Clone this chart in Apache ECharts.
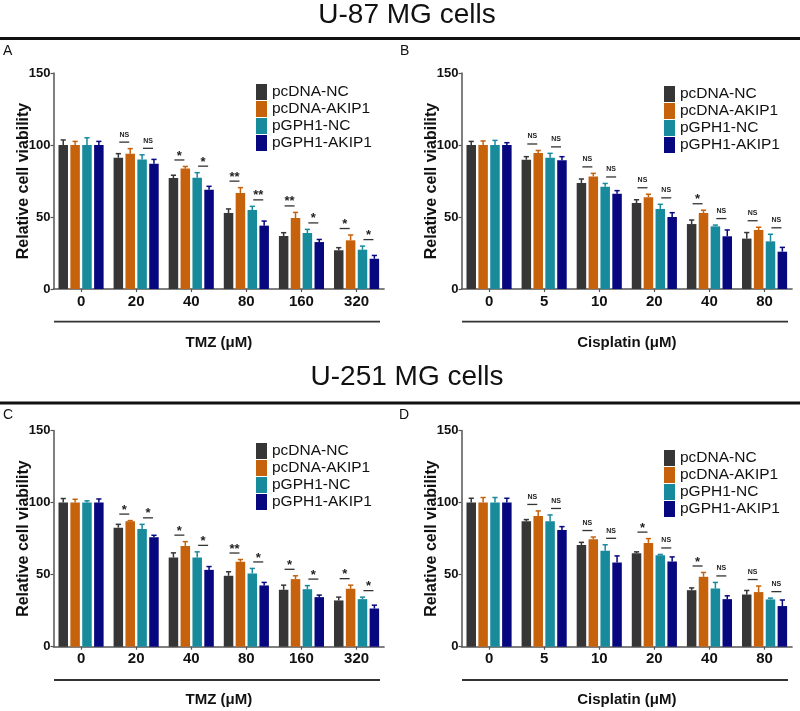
<!DOCTYPE html>
<html><head><meta charset="utf-8">
<script src="https://cdn.jsdelivr.net/npm/echarts@6/dist/echarts.min.js"></script>
<style>html,body{margin:0;padding:0;background:#fff}#c{width:800px;height:711px}</style>
</head><body><div id="c"></div>
<script>
// ---------- data ----------
const seriesNames = ['pcDNA-NC', 'pcDNA-AKIP1', 'pGPH1-NC', 'pGPH1-AKIP1'];
const catsTMZ = ['0', '20', '40', '80', '160', '320'];
const catsCis = ['0', '5', '10', '20', '40', '80'];
const yTicks = [0, 50, 100, 150];

// Panel A: U-87 MG, TMZ
const A_pcNC = [100, 91.2, 77, 52.8, 36.8, 26.9];
const A_pcAK = [100, 94, 83.6, 66.7, 49.3, 33.8];
const A_pgNC = [100, 90, 77.3, 54.9, 38.9, 27.3];
const A_pgAK = [100, 87, 69, 44, 32.6, 21];
const A_pcNC_err = [3.5, 2.8, 2, 2.8, 2.3, 1.8];
const A_pcAK_err = [2.5, 3.5, 1.5, 3.7, 3.9, 3.7];
const A_pgNC_err = [5, 3.2, 3.5, 2.5, 2.5, 2.5];
const A_pgAK_err = [2.5, 3, 2.3, 3.2, 1.8, 2.3];
const A_sig1 = ['', 'NS', '*', '**', '**', '*'];
const A_sig2 = ['', 'NS', '*', '**', '*', '*'];

// Panel B: U-87 MG, Cisplatin
const B_pcNC = [100, 89.8, 73.6, 59.7, 45.1, 35];
const B_pcAK = [100, 94.4, 78.2, 63.7, 52.8, 41];
const B_pgNC = [100, 91.2, 71, 55.6, 43.5, 33.1];
const B_pgAK = [100, 89.4, 66.2, 50, 36.6, 25.9];
const B_pcNC_err = [2.5, 2.1, 2.8, 2.3, 2.8, 4.2];
const B_pcAK_err = [2.8, 1.8, 2.1, 2.1, 1.9, 1.9];
const B_pgNC_err = [3.2, 3, 2.3, 3.2, 0.9, 4.9];
const B_pgAK_err = [1.6, 2.5, 2.1, 3, 4.4, 3];
const B_sig1 = ['', 'NS', 'NS', 'NS', '*', 'NS'];
const B_sig2 = ['', 'NS', 'NS', 'NS', 'NS', 'NS'];

// Panel C: U-251 MG, TMZ
const C_pcNC = [100, 82.6, 61.9, 49.2, 39.5, 32.1];
const C_pcAK = [100, 87, 69.9, 58.9, 46.9, 40.2];
const C_pgNC = [100, 81.7, 61.9, 50.8, 39.9, 33];
const C_pgAK = [100, 75.9, 53.3, 42.5, 34.4, 26.5];
const C_pcNC_err = [2.8, 2.3, 3.2, 2.8, 3.2, 2.3];
const C_pcAK_err = [2.3, 0.5, 3, 1.6, 2.3, 2.5];
const C_pgNC_err = [1.2, 3.2, 3.9, 3.5, 2.5, 1.4];
const C_pgAK_err = [2.5, 1.4, 2.3, 2.1, 1.4, 2.3];
const C_sig1 = ['', '*', '*', '**', '*', '*'];
const C_sig2 = ['', '*', '*', '*', '*', '*'];

// Panel D: U-251 MG, Cisplatin
const D_pcNC = [100, 87, 70.6, 64.9, 39.2, 36.2];
const D_pcAK = [100, 90.7, 74.5, 72, 48.5, 37.9];
const D_pgNC = [100, 87, 66.5, 63.5, 40.4, 32.8];
const D_pgAK = [100, 81, 58.4, 59.1, 33, 28.2];
const D_pcNC_err = [3, 1.2, 1.8, 0.9, 1.6, 2.8];
const D_pcAK_err = [3.5, 3.5, 1.6, 3, 3, 4.2];
const D_pgNC_err = [3.5, 4.4, 4.2, 0.5, 4.2, 0.9];
const D_pgAK_err = [3, 2.3, 4.6, 3.2, 2.3, 4.2];
const D_sig1 = ['', 'NS', 'NS', '*', '*', 'NS'];
const D_sig2 = ['', 'NS', 'NS', 'NS', 'NS', 'NS'];

// ---------- styling / layout ----------
const colors = ['#363636', '#c6610c', '#178a9c', '#07077f'];
const FONT = 'Liberation Sans, Arial, Helvetica, sans-serif';
const BAR_W = 9.5, BAR_GAP = 0.25;
const STEP = BAR_W * (1 + BAR_GAP);

const panels = [
  { cats: catsTMZ, vals: [A_pcNC, A_pcAK, A_pgNC, A_pgAK], errs: [A_pcNC_err, A_pcAK_err, A_pgNC_err, A_pgAK_err], sig: [A_sig1, A_sig2], xname: 'TMZ (\u03bcM)' },
  { cats: catsCis, vals: [B_pcNC, B_pcAK, B_pgNC, B_pgAK], errs: [B_pcNC_err, B_pcAK_err, B_pgNC_err, B_pgAK_err], sig: [B_sig1, B_sig2], xname: 'Cisplatin (\u03bcM)' },
  { cats: catsTMZ, vals: [C_pcNC, C_pcAK, C_pgNC, C_pgAK], errs: [C_pcNC_err, C_pcAK_err, C_pgNC_err, C_pgAK_err], sig: [C_sig1, C_sig2], xname: 'TMZ (\u03bcM)' },
  { cats: catsCis, vals: [D_pcNC, D_pcAK, D_pgNC, D_pgAK], errs: [D_pcNC_err, D_pcAK_err, D_pgNC_err, D_pgAK_err], sig: [D_sig1, D_sig2], xname: 'Cisplatin (\u03bcM)' }
];
const gridPos = [
  { left: 53.5, top: 73, width: 330.6, height: 216 },
  { left: 461.5, top: 73, width: 330.6, height: 216 },
  { left: 53.5, top: 430.5, width: 330.6, height: 216.2 },
  { left: 461.5, top: 430.5, width: 330.6, height: 216.2 }
];
const legendPos = [
  { left: 256, top: 84 }, { left: 664, top: 86 },
  { left: 256, top: 443 }, { left: 664, top: 450 }
];

const grid = [], xAxis = [], yAxis = [], series = [], legend = [];
panels.forEach((p, g) => {
  grid.push(Object.assign({ containLabel: false }, gridPos[g]));
  xAxis.push({
    type: 'category', gridIndex: g, data: p.cats,
    axisLine: { lineStyle: { color: '#555', width: 1.5 } },
    axisTick: { show: true, alignWithLabel: true, length: 3, lineStyle: { color: '#555', width: 1.2 } },
    axisLabel: { fontFamily: FONT, fontWeight: 'bold', fontSize: 15, color: '#111', margin: 5 },
    name: p.xname, nameLocation: 'middle', nameGap: 46, nameMoveOverlap: false,
    nameTextStyle: { fontFamily: FONT, fontWeight: 'bold', fontSize: 15, color: '#111' }
  });
  yAxis.push({
    type: 'value', gridIndex: g, min: yTicks[0], max: yTicks[yTicks.length - 1], interval: 50,
    axisLine: { show: true, lineStyle: { color: '#555', width: 1.5 } },
    axisTick: { show: true, length: 3, lineStyle: { color: '#555', width: 1.2 } },
    splitLine: { show: false },
    axisLabel: { fontFamily: FONT, fontWeight: 'bold', fontSize: 13, color: '#111', margin: 3 },
    name: 'Relative cell viability', nameLocation: 'middle', nameGap: 22, nameMoveOverlap: false,
    nameTextStyle: { fontFamily: FONT, fontWeight: 'bold', fontSize: 16, color: '#111' }
  });
  legend.push(Object.assign({
    orient: 'vertical', data: seriesNames, icon: 'rect', itemWidth: 11, itemHeight: 16, itemGap: 1,
    padding: 0, selectedMode: false,
    textStyle: { fontFamily: FONT, fontSize: 15.5, color: '#111', padding: [0, 0, 0, 0] }
  }, legendPos[g]));

  seriesNames.forEach((nm, s) => {
    series.push({
      type: 'bar', name: nm, xAxisIndex: g, yAxisIndex: g, data: p.vals[s],
      barWidth: BAR_W, barGap: (BAR_GAP * 100) + '%',
      itemStyle: { color: colors[s] }, z: 2, animation: false
    });
  });
  // error bars
  seriesNames.forEach((nm, s) => {
    const off = (s - 1.5) * STEP;
    series.push({
      type: 'custom', name: 'err' + g + '_' + s, xAxisIndex: g, yAxisIndex: g, z: 3,
      data: p.vals[s].map((v, i) => [i, v, p.errs[s][i]]),
      renderItem: function (params, api) {
        const i = api.value(0), v = api.value(1), e = api.value(2);
        const a = api.coord([i, v]), b = api.coord([i, v + e]);
        const x = a[0] + off;
        const st = { stroke: colors[s], lineWidth: 1.5 };
        return { type: 'group', children: [
          { type: 'line', shape: { x1: x, y1: a[1], x2: x, y2: b[1] }, style: st },
          { type: 'line', shape: { x1: x - 2.6, y1: b[1], x2: x + 2.6, y2: b[1] }, style: st }
        ] };
      },
      animation: false, silent: true
    });
  });
  // significance markers
  const sigData = [];
  for (let i = 0; i < p.cats.length; i++) {
    for (let k = 0; k < 2; k++) {
      const lab = p.sig[k][i];
      if (!lab) continue;
      const top = Math.max(p.vals[2 * k][i] + p.errs[2 * k][i], p.vals[2 * k + 1][i] + p.errs[2 * k + 1][i]) + 4.5;
      sigData.push({ value: [i, k, top], lab: lab });
    }
  }
  series.push({
    type: 'custom', name: 'sig' + g, xAxisIndex: g, yAxisIndex: g, z: 4,
    data: sigData.map(d => d.value),
    renderItem: function (params, api) {
      const d = sigData[params.dataIndex];
      const c = api.coord([api.value(0), api.value(2)]);
      const x = c[0] + (api.value(1) === 0 ? -STEP : STEP);
      const isNS = d.lab === 'NS';
      return { type: 'group', children: [
        { type: 'line', shape: { x1: x - 5, y1: c[1], x2: x + 5, y2: c[1] }, style: { stroke: '#333', lineWidth: 1.3 } },
        { type: 'text', x: x, y: isNS ? c[1] - 4 : c[1] + 2.5,
          style: { text: d.lab, textAlign: 'center', textVerticalAlign: 'bottom', fill: '#222',
            font: 'bold ' + (isNS ? 7 : 13) + 'px ' + FONT } }
      ] };
    },
    animation: false, silent: true
  });
});

const graphic = [
  { type: 'text', x: 407, y: 15, style: { text: 'U-87 MG cells', font: '28px ' + FONT, fill: '#111', textAlign: 'center', textVerticalAlign: 'middle' } },
  { type: 'line', shape: { x1: 0, y1: 38.5, x2: 800, y2: 38.5 }, style: { stroke: '#111', lineWidth: 3 } },
  { type: 'text', x: 3, y: 51.5, style: { text: 'A', font: '14px ' + FONT, fill: '#111', textVerticalAlign: 'middle' } },
  { type: 'text', x: 400, y: 51.5, style: { text: 'B', font: '14px ' + FONT, fill: '#111', textVerticalAlign: 'middle' } },
  { type: 'text', x: 407, y: 377, style: { text: 'U-251 MG cells', font: '28px ' + FONT, fill: '#111', textAlign: 'center', textVerticalAlign: 'middle' } },
  { type: 'line', shape: { x1: 0, y1: 403, x2: 800, y2: 403 }, style: { stroke: '#111', lineWidth: 3 } },
  { type: 'text', x: 3, y: 415.5, style: { text: 'C', font: '14px ' + FONT, fill: '#111', textVerticalAlign: 'middle' } },
  { type: 'text', x: 399, y: 415.5, style: { text: 'D', font: '14px ' + FONT, fill: '#111', textVerticalAlign: 'middle' } },
  { type: 'line', shape: { x1: 54, y1: 321.7, x2: 380, y2: 321.7 }, style: { stroke: '#333', lineWidth: 1.8 } },
  { type: 'line', shape: { x1: 462, y1: 321.7, x2: 788, y2: 321.7 }, style: { stroke: '#333', lineWidth: 1.8 } },
  { type: 'line', shape: { x1: 54, y1: 680, x2: 380, y2: 680 }, style: { stroke: '#333', lineWidth: 1.8 } },
  { type: 'line', shape: { x1: 462, y1: 680, x2: 788, y2: 680 }, style: { stroke: '#333', lineWidth: 1.8 } }
];

const chart = echarts.init(document.getElementById('c'), null, { renderer: 'canvas' });
chart.setOption({ animation: false, backgroundColor: '#fff', grid, xAxis, yAxis, legend, series, graphic });
</script></body></html>
